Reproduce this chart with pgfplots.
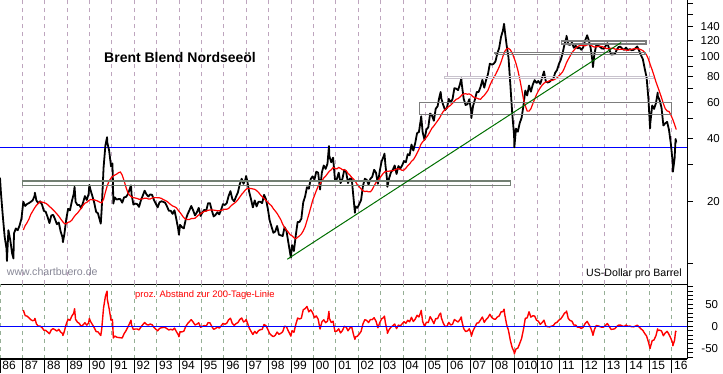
\documentclass[border=0pt]{standalone}
\usepackage{fontspec}
\setmainfont{Liberation Sans}
\usepackage{pgfplots}
\pgfplotsset{compat=1.18}
\usepackage{pgfplotstable}
\definecolor{gridU}{RGB}{190,165,190}
\definecolor{gridL}{RGB}{150,175,150}
\definecolor{boxG}{RGB}{115,128,115}
\definecolor{boxL}{RGB}{200,195,205}
\definecolor{boxD}{RGB}{125,125,125}
\definecolor{trend}{RGB}{0,110,0}
\definecolor{wwwc}{RGB}{135,135,150}
\definecolor{lineblue}{RGB}{0,0,255}

\pgfplotstableread{
x y
1986.000 26.0
1986.042 22.0
1986.125 17.0
1986.208 13.5
1986.292 11.8
1986.310 10.3
1986.375 14.5
1986.458 13.0
1986.542 11.2
1986.600 10.6
1986.625 14.0
1986.708 14.8
1986.792 14.5
1986.875 15.3
1986.958 16.5
1987.042 19.9
1987.125 19.0
1987.208 19.4
1987.292 19.6
1987.375 19.9
1987.458 20.2
1987.542 21.2
1987.560 22.0
1987.625 20.2
1987.708 19.6
1987.792 20.0
1987.875 19.3
1987.958 18.0
1988.042 17.8
1988.125 16.8
1988.208 15.7
1988.292 17.1
1988.375 17.2
1988.458 16.4
1988.542 15.5
1988.625 15.8
1988.708 14.3
1988.792 13.4
1988.810 12.7
1988.875 13.9
1988.958 16.4
1989.042 18.4
1989.125 18.1
1989.208 20.0
1989.292 21.7
1989.330 23.5
1989.375 19.9
1989.458 19.2
1989.542 19.2
1989.625 18.5
1989.708 19.7
1989.792 21.2
1989.875 20.3
1989.958 21.7
1989.990 24.0
1990.042 22.7
1990.125 21.2
1990.208 19.7
1990.292 17.8
1990.375 17.5
1990.458 16.2
1990.500 15.6
1990.542 18.4
1990.625 29.1
1990.708 37.3
1990.780 40.8
1990.792 38.5
1990.875 35.1
1990.958 29.5
1991.020 30.5
1991.042 25.3
1991.060 19.5
1991.125 20.9
1991.208 20.4
1991.292 20.5
1991.375 20.5
1991.458 19.7
1991.542 20.9
1991.625 21.0
1991.708 21.6
1991.792 22.9
1991.850 23.9
1991.875 21.6
1991.958 19.3
1992.042 19.5
1992.125 19.4
1992.208 18.8
1992.292 20.2
1992.375 21.3
1992.458 22.5
1992.542 21.6
1992.625 21.1
1992.708 21.6
1992.792 21.5
1992.875 20.3
1992.958 19.5
1993.042 18.7
1993.125 19.8
1993.208 20.0
1993.292 19.9
1993.375 19.7
1993.458 18.9
1993.542 18.0
1993.625 18.0
1993.708 17.4
1993.792 18.1
1993.875 16.4
1993.958 14.7
1993.990 13.8
1994.042 15.4
1994.125 15.0
1994.208 14.8
1994.292 16.3
1994.375 17.3
1994.458 18.1
1994.542 19.0
1994.625 18.1
1994.708 17.1
1994.792 17.7
1994.875 18.6
1994.958 17.0
1995.042 17.7
1995.125 18.2
1995.208 18.0
1995.292 19.6
1995.375 19.6
1995.458 18.1
1995.542 16.9
1995.625 17.2
1995.708 17.7
1995.792 17.3
1995.875 18.2
1995.958 19.4
1996.042 19.2
1996.125 19.6
1996.208 21.2
1996.292 22.4
1996.375 20.5
1996.458 20.0
1996.542 21.1
1996.625 22.1
1996.708 24.2
1996.792 25.7
1996.875 24.3
1996.958 25.5
1996.990 26.5
1997.042 25.1
1997.125 22.3
1997.208 20.5
1997.292 18.7
1997.375 20.2
1997.458 18.9
1997.542 19.9
1997.625 19.9
1997.708 19.6
1997.792 21.5
1997.875 20.5
1997.958 18.5
1998.042 16.2
1998.125 15.1
1998.208 14.1
1998.292 14.3
1998.375 15.2
1998.458 13.8
1998.542 13.7
1998.625 13.6
1998.708 15.0
1998.792 14.4
1998.875 12.7
1998.958 11.2
1998.990 10.7
1999.042 12.3
1999.125 11.5
1999.208 13.7
1999.292 15.9
1999.375 15.9
1999.458 16.5
1999.542 19.8
1999.625 21.1
1999.708 23.4
1999.792 23.0
1999.875 25.6
1999.958 26.4
2000.042 25.5
2000.125 27.8
2000.208 27.5
2000.292 22.8
2000.375 27.6
2000.458 29.8
2000.542 28.7
2000.625 30.4
2000.690 37.0
2000.708 33.1
2000.792 30.9
2000.875 32.5
2000.958 25.5
2001.042 25.6
2001.125 27.5
2001.208 24.5
2001.292 25.7
2001.375 28.4
2001.458 27.7
2001.542 24.5
2001.625 25.8
2001.708 25.6
2001.792 20.5
2001.850 17.6
2001.875 18.9
2001.958 18.6
2002.042 19.4
2002.125 20.3
2002.208 23.7
2002.292 25.7
2002.375 25.4
2002.458 24.1
2002.542 25.7
2002.625 26.3
2002.708 28.4
2002.792 27.5
2002.875 24.3
2002.958 28.0
2003.042 31.2
2003.125 32.8
2003.170 34.0
2003.208 30.3
2003.292 25.0
2003.300 23.5
2003.375 25.8
2003.458 27.6
2003.542 28.4
2003.625 29.8
2003.708 27.1
2003.792 29.6
2003.875 28.8
2003.958 29.8
2004.042 31.3
2004.125 30.9
2004.208 33.8
2004.292 33.4
2004.375 37.6
2004.458 35.2
2004.542 38.2
2004.625 42.7
2004.708 43.2
2004.792 49.8
2004.810 51.5
2004.875 43.1
2004.958 39.6
2005.042 44.5
2005.125 45.5
2005.208 53.1
2005.292 51.9
2005.375 49.0
2005.458 56.0
2005.542 57.6
2005.625 64.1
2005.680 67.5
2005.708 62.8
2005.792 58.5
2005.875 55.2
2005.958 56.5
2006.042 62.5
2006.125 60.0
2006.208 62.3
2006.292 70.4
2006.375 70.0
2006.458 68.9
2006.542 73.7
2006.600 78.5
2006.625 73.2
2006.708 62.5
2006.792 58.4
2006.875 58.9
2006.958 62.3
2007.042 54.3
2007.050 50.5
2007.125 57.6
2007.208 62.1
2007.292 67.5
2007.375 67.5
2007.458 71.3
2007.542 77.2
2007.625 70.8
2007.708 77.1
2007.792 82.3
2007.875 92.5
2007.958 91.5
2008.042 92.2
2008.125 94.8
2008.208 103.3
2008.292 110.2
2008.375 124.6
2008.458 133.5
2008.510 144.0
2008.542 133.9
2008.625 113.4
2008.708 99.1
2008.792 72.8
2008.875 53.2
2008.958 41.6
2008.970 36.5
2009.042 44.9
2009.125 43.4
2009.208 47.7
2009.292 50.6
2009.375 57.9
2009.458 68.6
2009.542 64.9
2009.625 72.5
2009.708 67.7
2009.792 73.2
2009.875 77.0
2009.958 74.7
2010.042 76.2
2010.125 73.8
2010.208 78.8
2010.292 84.8
2010.375 75.9
2010.458 75.0
2010.542 75.6
2010.625 77.1
2010.708 78.2
2010.792 83.5
2010.875 86.1
2010.958 92.0
2011.042 96.5
2011.125 103.7
2011.208 114.6
2011.292 123.3
2011.300 126.0
2011.375 114.5
2011.458 113.9
2011.542 116.7
2011.625 110.4
2011.708 112.8
2011.792 109.6
2011.875 110.8
2011.958 107.9
2012.042 110.7
2012.125 119.3
2012.208 125.5
2012.220 126.8
2012.292 119.8
2012.375 110.3
2012.458 95.2
2012.480 89.0
2012.542 102.6
2012.625 113.4
2012.708 113.0
2012.792 111.5
2012.875 109.5
2012.958 109.2
2013.042 112.3
2013.125 116.1
2013.208 108.5
2013.292 102.3
2013.375 102.6
2013.458 102.9
2013.542 107.9
2013.625 111.3
2013.708 111.6
2013.792 109.1
2013.875 107.8
2013.958 110.6
2014.042 107.4
2014.125 108.8
2014.208 107.4
2014.292 107.8
2014.375 109.7
2014.458 111.9
2014.542 106.8
2014.625 101.6
2014.708 97.1
2014.792 87.4
2014.875 79.4
2014.958 62.3
2015.030 45.0
2015.042 47.8
2015.125 58.1
2015.208 55.9
2015.292 59.5
2015.370 67.0
2015.375 64.6
2015.458 61.5
2015.542 56.6
2015.625 46.5
2015.708 47.6
2015.792 48.4
2015.875 44.3
2015.958 38.0
2016.042 30.7
2016.050 27.8
2016.125 32.2
2016.170 40.0
2016.200 38.5
}\price

\pgfplotstableread{
x y
1987.042 14.55
1987.125 15.27
1987.208 15.76
1987.292 16.42
1987.375 17.29
1987.458 17.91
1987.542 18.55
1987.625 19.12
1987.708 19.55
1987.792 19.90
1987.875 19.84
1987.958 19.74
1988.042 19.58
1988.125 19.30
1988.208 18.88
1988.292 18.57
1988.375 18.17
1988.458 17.79
1988.542 17.38
1988.625 16.96
1988.708 16.46
1988.792 16.00
1988.875 15.61
1988.958 15.57
1989.042 15.84
1989.125 15.94
1989.208 16.22
1989.292 16.75
1989.375 17.19
1989.458 17.53
1989.542 18.02
1989.625 18.53
1989.708 19.11
1989.792 19.59
1989.875 19.78
1989.958 20.14
1990.042 20.41
1990.125 20.36
1990.208 20.34
1990.292 20.20
1990.375 20.03
1990.458 19.80
1990.542 19.67
1990.625 20.46
1990.708 22.16
1990.792 23.84
1990.875 25.08
1990.958 25.91
1991.042 26.47
1991.125 26.78
1991.208 27.07
1991.292 27.50
1991.375 27.71
1991.458 26.77
1991.542 25.13
1991.625 23.38
1991.708 22.03
1991.792 21.37
1991.875 21.00
1991.958 20.84
1992.042 20.75
1992.125 20.64
1992.208 20.47
1992.292 20.52
1992.375 20.56
1992.458 20.71
1992.542 20.71
1992.625 20.53
1992.708 20.53
1992.792 20.75
1992.875 20.83
1992.958 20.84
1993.042 20.83
1993.125 20.79
1993.208 20.66
1993.292 20.40
1993.375 20.21
1993.458 19.99
1993.542 19.63
1993.625 19.28
1993.708 18.99
1993.792 18.85
1993.875 18.62
1993.958 18.11
1994.042 17.65
1994.125 17.16
1994.208 16.67
1994.292 16.41
1994.375 16.34
1994.458 16.35
1994.542 16.51
1994.625 16.51
1994.708 16.58
1994.792 16.88
1994.875 17.20
1994.958 17.40
1995.042 17.69
1995.125 17.88
1995.208 17.95
1995.292 18.10
1995.375 18.16
1995.458 18.16
1995.542 18.14
1995.625 18.09
1995.708 18.00
1995.792 18.03
1995.875 18.08
1995.958 18.20
1996.042 18.32
1996.125 18.32
1996.208 18.48
1996.292 18.91
1996.375 19.27
1996.458 19.55
1996.542 19.89
1996.625 20.37
1996.708 20.97
1996.792 21.60
1996.875 22.11
1996.958 22.70
1997.042 23.09
1997.125 23.08
1997.208 23.08
1997.292 22.95
1997.375 22.86
1997.458 22.54
1997.542 22.11
1997.625 21.53
1997.708 21.06
1997.792 20.66
1997.875 20.20
1997.958 19.82
1998.042 19.39
1998.125 19.03
1998.208 18.42
1998.292 17.96
1998.375 17.49
1998.458 16.88
1998.542 16.29
1998.625 15.50
1998.708 14.95
1998.792 14.54
1998.875 14.19
1998.958 13.80
1999.042 13.62
1999.125 13.34
1999.208 13.19
1999.292 13.40
1999.375 13.62
1999.458 13.91
1999.542 14.39
1999.625 15.06
1999.708 16.13
1999.792 17.31
1999.875 18.64
1999.958 20.13
2000.042 21.31
2000.125 22.50
2000.208 23.66
2000.292 24.29
2000.375 25.07
2000.458 25.94
2000.542 26.47
2000.625 27.21
2000.708 27.96
2000.792 28.41
2000.875 29.11
2000.958 28.88
2001.042 28.69
2001.125 29.16
2001.208 28.85
2001.292 28.44
2001.375 28.41
2001.458 28.14
2001.542 27.28
2001.625 26.77
2001.708 26.08
2001.792 25.58
2001.875 24.91
2001.958 24.02
2002.042 23.51
2002.125 22.97
2002.208 22.50
2002.292 22.30
2002.375 22.39
2002.458 22.22
2002.542 22.23
2002.625 22.81
2002.708 23.76
2002.792 24.65
2002.875 25.14
2002.958 25.91
2003.042 26.66
2003.125 27.37
2003.208 27.86
2003.292 27.95
2003.375 27.96
2003.458 28.09
2003.542 28.09
2003.625 28.32
2003.708 28.60
2003.792 28.76
2003.875 28.52
2003.958 28.22
2004.042 28.32
2004.125 28.91
2004.208 29.71
2004.292 30.29
2004.375 31.21
2004.458 31.75
2004.542 32.86
2004.625 34.17
2004.708 35.61
2004.792 37.61
2004.875 38.79
2004.958 39.66
2005.042 40.73
2005.125 41.94
2005.208 43.49
2005.292 45.16
2005.375 46.24
2005.458 47.57
2005.542 49.01
2005.625 50.44
2005.708 52.41
2005.792 54.30
2005.875 55.37
2005.958 56.47
2006.042 57.41
2006.125 58.22
2006.208 59.55
2006.292 60.99
2006.375 62.23
2006.458 62.71
2006.542 63.80
2006.625 65.27
2006.708 66.00
2006.792 66.19
2006.875 65.83
2006.958 66.06
2007.042 65.26
2007.125 63.98
2007.208 63.19
2007.292 63.05
2007.375 62.43
2007.458 62.24
2007.542 63.71
2007.625 64.95
2007.708 66.77
2007.792 68.77
2007.875 72.59
2007.958 75.98
2008.042 78.99
2008.125 81.72
2008.208 85.30
2008.292 89.19
2008.375 93.93
2008.458 100.20
2008.542 105.88
2008.625 108.99
2008.708 109.65
2008.792 107.78
2008.875 103.88
2008.958 98.56
2009.042 92.72
2009.125 86.04
2009.208 78.35
2009.292 70.06
2009.375 62.46
2009.458 57.98
2009.542 54.56
2009.625 54.53
2009.708 55.98
2009.792 59.14
2009.875 62.35
2009.958 65.48
2010.042 68.33
2010.125 70.65
2010.208 72.74
2010.292 74.36
2010.375 75.46
2010.458 75.71
2010.542 76.50
2010.625 76.89
2010.708 77.01
2010.792 77.89
2010.875 78.88
2010.958 80.70
2011.042 82.47
2011.125 84.36
2011.208 88.23
2011.292 93.06
2011.375 96.95
2011.458 100.63
2011.542 104.48
2011.625 107.17
2011.708 109.84
2011.792 111.60
2011.875 113.03
2011.958 113.45
2012.042 113.06
2012.125 112.66
2012.208 113.76
2012.292 114.35
2012.375 113.71
2012.458 112.19
2012.542 111.17
2012.625 111.55
2012.708 111.77
2012.792 112.13
2012.875 112.01
2012.958 111.00
2013.042 109.68
2013.125 109.31
2013.208 109.13
2013.292 109.84
2013.375 109.84
2013.458 108.79
2013.542 108.28
2013.625 108.26
2013.708 108.47
2013.792 108.46
2013.875 108.01
2013.958 107.46
2014.042 107.35
2014.125 108.00
2014.208 108.48
2014.292 108.97
2014.375 109.15
2014.458 109.21
2014.542 108.73
2014.625 107.98
2014.708 106.91
2014.792 104.59
2014.875 101.79
2014.958 97.14
2015.042 91.18
2015.125 86.21
2015.208 80.83
2015.292 75.59
2015.375 71.37
2015.458 67.36
2015.542 63.31
2015.625 59.22
2015.708 56.04
2015.792 54.65
2015.875 54.30
2015.958 52.29
2016.042 49.77
2016.125 47.04
2016.200 44.43
}\mavg

\pgfplotstableread{
x y
1987.042 36.8
1987.125 24.4
1987.208 23.1
1987.292 19.4
1987.375 15.1
1987.458 12.8
1987.542 14.3
1987.560 18.0
1987.625 5.6
1987.708 0.3
1987.792 0.5
1987.875 -2.7
1987.958 -8.8
1988.042 -9.1
1988.125 -13.0
1988.208 -16.8
1988.292 -7.9
1988.375 -5.3
1988.458 -7.8
1988.542 -10.8
1988.625 -6.8
1988.708 -13.1
1988.792 -16.3
1988.810 -20.9
1988.875 -11.0
1988.958 5.3
1989.042 16.2
1989.125 13.6
1989.208 23.3
1989.292 29.6
1989.330 40.0
1989.375 15.8
1989.458 9.5
1989.542 6.5
1989.625 -0.2
1989.708 3.1
1989.792 8.2
1989.875 2.6
1989.958 7.7
1989.990 18.0
1990.042 11.2
1990.125 4.1
1990.208 -3.1
1990.292 -11.9
1990.375 -12.6
1990.458 -18.2
1990.500 -21.0
1990.542 -6.5
1990.625 42.2
1990.708 68.3
1990.780 80.0
1990.792 61.5
1990.875 40.0
1990.958 13.9
1991.020 15.5
1991.042 -4.4
1991.060 -26.5
1991.125 -22.0
1991.208 -24.6
1991.292 -25.5
1991.375 -26.0
1991.458 -26.4
1991.542 -16.8
1991.625 -10.2
1991.708 -2.0
1991.792 7.2
1991.850 13.8
1991.875 2.9
1991.958 -7.4
1992.042 -6.0
1992.125 -6.0
1992.208 -8.2
1992.292 -1.6
1992.375 3.6
1992.458 8.6
1992.542 4.3
1992.625 2.8
1992.708 5.2
1992.792 3.6
1992.875 -2.5
1992.958 -6.4
1993.042 -10.2
1993.125 -4.8
1993.208 -3.2
1993.292 -2.5
1993.375 -2.5
1993.458 -5.5
1993.542 -8.3
1993.625 -6.6
1993.708 -8.4
1993.792 -4.0
1993.875 -11.9
1993.958 -18.8
1993.990 -23.8
1994.042 -12.7
1994.125 -12.6
1994.208 -11.2
1994.292 -0.7
1994.375 5.9
1994.458 10.7
1994.542 15.1
1994.625 9.6
1994.708 3.1
1994.792 4.9
1994.875 8.1
1994.958 -2.3
1995.042 0.1
1995.125 1.8
1995.208 0.3
1995.292 8.3
1995.375 7.9
1995.458 -0.3
1995.542 -6.8
1995.625 -4.9
1995.708 -1.7
1995.792 -4.0
1995.875 0.7
1995.958 6.6
1996.042 4.8
1996.125 7.0
1996.208 14.7
1996.292 18.5
1996.375 6.4
1996.458 2.3
1996.542 6.1
1996.625 8.5
1996.708 15.4
1996.792 19.0
1996.875 9.9
1996.958 12.3
1996.990 15.7
1997.042 8.7
1997.125 -3.4
1997.208 -11.2
1997.292 -18.5
1997.375 -11.6
1997.458 -16.1
1997.542 -10.0
1997.625 -7.6
1997.708 -6.9
1997.792 4.1
1997.875 1.5
1997.958 -6.7
1998.042 -16.5
1998.125 -20.7
1998.208 -23.5
1998.292 -20.4
1998.375 -13.1
1998.458 -18.2
1998.542 -15.9
1998.625 -12.3
1998.708 0.3
1998.792 -1.0
1998.875 -10.5
1998.958 -18.8
1998.990 -22.2
1999.042 -9.7
1999.125 -13.8
1999.208 3.9
1999.292 18.7
1999.375 16.7
1999.458 18.6
1999.542 37.6
1999.625 40.1
1999.708 45.1
1999.792 32.9
1999.875 37.3
1999.958 31.1
2000.042 19.7
2000.125 23.6
2000.208 16.2
2000.292 -6.1
2000.375 10.1
2000.458 14.9
2000.542 8.4
2000.625 11.7
2000.690 34.0
2000.708 18.4
2000.792 8.8
2000.875 11.6
2000.958 -11.7
2001.042 -10.8
2001.125 -5.7
2001.208 -15.1
2001.292 -9.6
2001.375 0.0
2001.458 -1.6
2001.542 -10.2
2001.625 -3.6
2001.708 -1.8
2001.792 -19.9
2001.850 -29.6
2001.875 -24.1
2001.958 -22.6
2002.042 -17.5
2002.125 -11.6
2002.208 5.3
2002.292 15.2
2002.375 13.4
2002.458 8.5
2002.542 15.6
2002.625 15.3
2002.708 19.5
2002.792 11.6
2002.875 -3.3
2002.958 8.1
2003.042 17.0
2003.125 19.8
2003.170 23.2
2003.208 8.8
2003.292 -10.6
2003.300 -15.9
2003.375 -7.7
2003.458 -1.7
2003.542 1.1
2003.625 5.2
2003.708 -5.2
2003.792 2.9
2003.875 1.0
2003.958 5.6
2004.042 10.5
2004.125 6.9
2004.208 13.8
2004.292 10.3
2004.375 20.5
2004.458 10.9
2004.542 16.3
2004.625 25.0
2004.708 21.3
2004.792 32.4
2004.810 36.2
2004.875 11.1
2004.958 -0.2
2005.042 9.3
2005.125 8.5
2005.208 22.1
2005.292 14.9
2005.375 6.0
2005.458 17.7
2005.542 17.5
2005.625 27.1
2005.680 30.1
2005.708 19.8
2005.792 7.7
2005.875 -0.3
2005.958 0.1
2006.042 8.9
2006.125 3.1
2006.208 4.6
2006.292 15.4
2006.375 12.5
2006.458 9.9
2006.542 15.5
2006.600 21.3
2006.625 12.1
2006.708 -5.3
2006.792 -11.8
2006.875 -10.5
2006.958 -5.7
2007.042 -16.8
2007.050 -22.5
2007.125 -10.0
2007.208 -1.7
2007.292 7.1
2007.375 8.1
2007.458 14.6
2007.542 21.2
2007.625 9.0
2007.708 15.5
2007.792 19.7
2007.875 27.4
2007.958 20.4
2008.042 16.7
2008.125 16.0
2008.208 21.1
2008.292 23.6
2008.375 32.7
2008.458 33.2
2008.510 39.1
2008.542 26.5
2008.625 4.0
2008.708 -9.6
2008.792 -32.5
2008.875 -48.8
2008.958 -57.8
2008.970 -62.8
2009.042 -51.6
2009.125 -49.6
2009.208 -39.1
2009.292 -27.8
2009.375 -7.3
2009.458 18.3
2009.542 19.0
2009.625 33.0
2009.708 20.9
2009.792 23.8
2009.875 23.5
2009.958 14.1
2010.042 11.5
2010.125 4.5
2010.208 8.3
2010.292 14.0
2010.375 0.6
2010.458 -0.9
2010.542 -1.2
2010.625 0.3
2010.708 1.5
2010.792 7.2
2010.875 9.2
2010.958 14.0
2011.042 17.0
2011.125 22.9
2011.208 29.9
2011.292 32.5
2011.300 34.9
2011.375 18.1
2011.458 13.2
2011.542 11.7
2011.625 3.0
2011.708 2.7
2011.792 -1.8
2011.875 -2.0
2011.958 -4.9
2012.042 -2.1
2012.125 5.9
2012.208 10.3
2012.220 11.3
2012.292 4.8
2012.375 -3.0
2012.458 -15.1
2012.480 -20.5
2012.542 -7.7
2012.625 1.7
2012.708 1.1
2012.792 -0.6
2012.875 -2.2
2012.958 -1.6
2013.042 2.4
2013.125 6.2
2013.208 -0.6
2013.292 -6.9
2013.375 -6.6
2013.458 -5.4
2013.542 -0.4
2013.625 2.8
2013.708 2.9
2013.792 0.6
2013.875 -0.2
2013.958 2.9
2014.042 0.0
2014.125 0.7
2014.208 -1.0
2014.292 -1.1
2014.375 0.5
2014.458 2.5
2014.542 -1.8
2014.625 -5.9
2014.708 -9.2
2014.792 -16.4
2014.875 -22.0
2014.958 -35.9
2015.030 -50.5
2015.042 -47.6
2015.125 -32.6
2015.208 -30.8
2015.292 -21.3
2015.370 -5.6
2015.375 -9.5
2015.458 -8.7
2015.542 -10.6
2015.625 -21.5
2015.708 -15.1
2015.792 -11.4
2015.875 -18.4
2015.958 -27.3
2016.042 -38.3
2016.050 -44.0
2016.125 -31.5
2016.170 -11.1
2016.200 -13.3
}\dev

\begin{document}
\begin{tikzpicture}[x=1bp,y=1bp]
\useasboundingbox (0,0) rectangle (723,373);
% ---------------- upper panel ----------------
\begin{axis}[
  at={(0bp,88.7bp)}, anchor=south west, scale only axis,
  width=687bp, height=284.3bp,
  xmin=1986, xmax=2016.68,
  ymode=log, ymin=7.95, ymax=187.7,
  axis x line*=bottom, axis y line*=right,
  axis line style={line width=1bp, black, -},
  xtick={1987,...,2016}, xticklabels={},
  x tick style={draw=none},
  xmajorgrids,
  major grid style={gridU, dash pattern=on 4bp off 4bp, line width=1bp},
  ytick={10,20,30,40,50,60,70,80,90,100,120,140,160,180},
  yticklabels={,20,,40,,60,,80,,100,120,140,,},
  tick align=outside, major tick length=6bp,
  y tick style={black, line width=1bp},
  yticklabel style={font=\fontsize{11.5bp}{13bp}\selectfont, anchor=east, inner sep=0pt, xshift=27bp},
  no markers,
]
\addplot[lineblue, line width=1.4bp] coordinates {(1986,36.5) (2016.68,36.5)};
\addplot[black, line width=1.8bp, line join=round] table[x=x,y=y] {\price};
\addplot[red, line width=1.2bp] table[x=x,y=y] {\mavg};
% boxes
\addplot[boxG, line width=1.2bp, line join=miter] coordinates {(1987.0,23.8) (2008.78,23.8) (2008.78,25.1) (1987.0,25.1) (1987.0,23.8)};
\addplot[boxD, line width=1.3bp, line join=miter] coordinates {(2004.73,52.7) (2016.0,52.7) (2016.0,59.9) (2004.73,59.9) (2004.73,52.7)};
\addplot[boxL, line width=1.2bp, line join=miter] coordinates {(2005.84,78.3) (2015.18,78.3) (2015.18,80.4) (2005.84,80.4) (2005.84,78.3)};
\addplot[boxD, line width=1.5bp, line join=miter] coordinates {(2008.11,102.4) (2014.81,102.4) (2014.81,104.7) (2008.11,104.7) (2008.11,102.4)};
\addplot[boxD, line width=1.3bp, line join=miter] coordinates {(2011.06,115.2) (2014.85,115.2) (2014.85,118.8) (2011.06,118.8) (2011.06,115.2)};
% trend line
\addplot[trend, line width=1bp] coordinates {(1998.83,10.5) (2013.74,117.0)};
\end{axis}
% ---------------- lower panel ----------------
\begin{axis}[
  at={(0bp,14bp)}, anchor=south west, scale only axis,
  width=687bp, height=74.7bp,
  xmin=1986, xmax=2016.68,
  ymin=-74.3, ymax=95.5,
  axis x line*=bottom, axis y line*=right,
  axis line style={black, -},
  x axis line style={line width=1.5bp},
  y axis line style={line width=1bp},
  xtick={1986,...,2016},
  xticklabels={86,87,88,89,90,91,92,93,94,95,96,97,98,99,00,01,02,03,04,05,06,07,08,010,10,11,12,13,14,15,16},
  xmajorgrids,
  major grid style={gridL, dash pattern=on 4bp off 4bp, line width=1bp},
  tick align=outside,
  x tick style={black, line width=1bp, /pgfplots/major tick length=14bp},
  y tick style={black, line width=1bp, /pgfplots/major tick length=6bp},
  xticklabel style={font=\fontsize{12bp}{13bp}\selectfont, anchor=base west, inner sep=0pt, xshift=2.2bp, yshift=-6.5bp},
  ytick={-70,-60,-50,-40,-30,-20,-10,0,10,20,30,40,50,60,70,80,90},
  yticklabels={,,-50,,,,,0,,,,,50,,,,},
  yticklabel style={font=\fontsize{11.5bp}{13bp}\selectfont, anchor=east, inner sep=0pt, xshift=27bp},
  no markers,
]
\addplot[red, line width=1.4bp, line join=round] table[x=x,y=y] {\dev};
\addplot[lineblue, line width=1.2bp] coordinates {(1986,0) (2016.68,0)};
\end{axis}
% texts
\node[anchor=base west, inner sep=0pt, font=\bfseries\fontsize{14bp}{16bp}\selectfont] at (104,311) {Brent Blend Nordseeöl};
\node[anchor=base west, inner sep=0pt, text=wwwc, font=\fontsize{10.6bp}{12bp}\selectfont] at (6.7,98) {www.chartbuero.de};
\node[anchor=base west, inner sep=0pt, font=\fontsize{10.6bp}{12bp}\selectfont] at (586,97) {US-Dollar pro Barrel};
\node[anchor=base west, inner sep=0pt, text=red, font=\fontsize{9.4bp}{11bp}\selectfont] at (135,75.5) {proz. Abstand zur 200-Tage-Linie};
\end{tikzpicture}
\end{document}
